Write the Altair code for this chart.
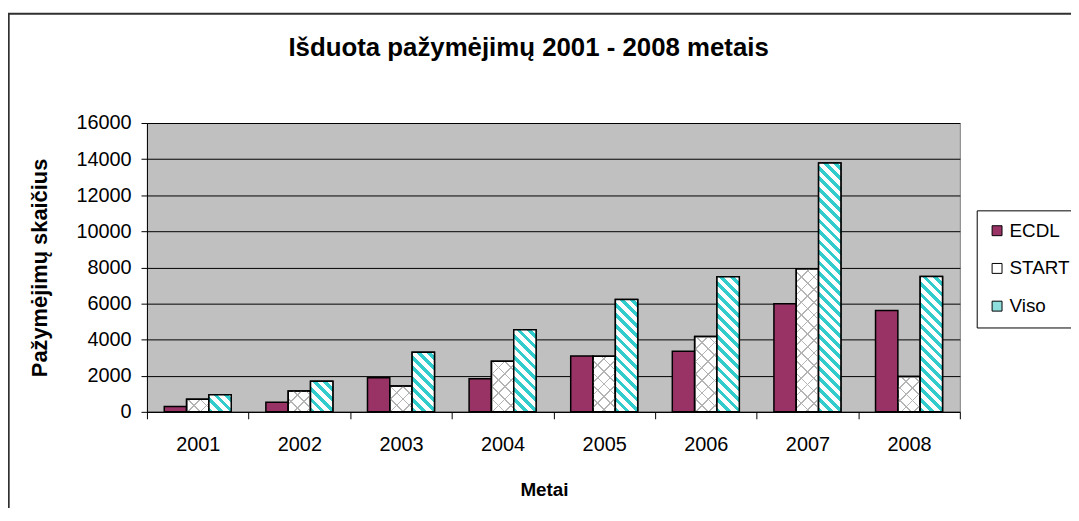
import math
import altair as alt
import pandas as pd

# ---------------- data ----------------
years = ["2001", "2002", "2003", "2004", "2005", "2006", "2007", "2008"]
series = ["ECDL", "START", "Viso"]
ecdl = [290, 530, 1890, 1830, 3100, 3350, 5990, 5620]
start = [700, 1160, 1430, 2800, 3080, 4180, 7930, 1960]
viso = [950, 1700, 3300, 4550, 6220, 7480, 13780, 7500]
y_ticks = [0, 2000, 4000, 6000, 8000, 10000, 12000, 14000, 16000]

title_text = "Išduota pažymėjimų 2001 - 2008 metais"
x_title = "Metai"
y_title = "Pažymėjimų skaičius"

# ---------------- style ----------------
FONT = "Liberation Sans"
PLOT_W, PLOT_H = 819, 291
Y_MAX = 16000
OFFSET_PAD = 0.775
BAR_W = PLOT_W / len(years) / (len(series) + 2 * OFFSET_PAD)
series_colors = ["#993366", "#FFFFFF", "#8FDEDE"]
CYAN = "#33CCCC"
HATCH = "#B4B4B4"
CLEAR = "rgba(255,255,255,0)"

rows = []
for i, yr in enumerate(years):
    for s, vals in zip(series, [ecdl, start, viso]):
        rows.append({"Metai": yr, "Serija": s, "Kiekis": vals[i]})
df = pd.DataFrame(rows)


def stripes(h, w, kind, period, frac, line, bg):
    """Linear gradient that paints 45-degree stripes on a w x h bar."""
    h = max(h, 1.0)
    k = (w + h) / (w * w + h * h)
    if kind == "back":  # lines like "\"
        x1, y1, x2, y2 = 0.0, 1.0, k * w, 1.0 - k * h
    else:  # lines like "/"
        x1, y1, x2, y2 = 0.0, 0.0, k * w, k * h
    n = (w + h) / math.sqrt(2) / period
    stops = []
    i = 0
    while i < n:
        a = i / n
        b = min((i + frac) / n, 1.0)
        c = min((i + 1) / n, 1.0)
        stops += [
            {"offset": round(a, 5), "color": line},
            {"offset": round(b, 5), "color": line},
            {"offset": round(b, 5), "color": bg},
            {"offset": round(c, 5), "color": bg},
        ]
        i += 1
    return {"gradient": "linear", "x1": round(x1, 5), "y1": round(y1, 5),
            "x2": round(x2, 5), "y2": round(y2, 5), "stops": stops}


x_enc = alt.X(
    "Metai:N", sort=years, title=x_title,
    scale=alt.Scale(paddingInner=0, paddingOuter=0),
    axis=alt.Axis(labelAngle=0, tickBand="extent", tickSize=7, labelPadding=16,
                  grid=False, titleX=400, titleY=78, titleBaseline="middle",
                  titleAlign="center", titleFontSize=19),
)
xo_enc = alt.XOffset(
    "Serija:N", sort=series,
    scale=alt.Scale(domain=series, paddingInner=0, paddingOuter=OFFSET_PAD),
)
y_enc = alt.Y(
    "Kiekis:Q", title=y_title,
    scale=alt.Scale(domain=[0, Y_MAX], nice=False, zero=True),
    axis=alt.Axis(values=y_ticks, format="d", tickSize=6, labelPadding=10,
                  grid=True, gridColor="black", gridWidth=1, gridOpacity=1,
                  titleX=-108, titleY=PLOT_H / 2, titleAngle=270,
                  titleBaseline="middle", titleAlign="center", titleFontSize=22),
)

base = alt.Chart(df)

frame = alt.Chart(pd.DataFrame({"k": [0]})).mark_rect(
    fill="white", fillOpacity=0, stroke="#303030", strokeWidth=2
).encode(
    x=alt.value(-139.3), x2=alt.value(PLOT_W + 400),
    y=alt.value(-110), y2=alt.value(PLOT_H + 400),
)

bars = base.mark_bar(stroke="black", strokeWidth=1.5).encode(
    x=x_enc, xOffset=xo_enc, y=y_enc,
    color=alt.Color(
        "Serija:N", sort=series,
        scale=alt.Scale(domain=series, range=series_colors),
        legend=alt.Legend(
            title=None, orient="none", legendX=836, legendY=88,
            symbolType="square", symbolSize=100, symbolStrokeColor="black",
            symbolStrokeWidth=1, symbolOpacity=1,
            labelFont=FONT, labelFontSize=19, labelColor="black", labelOffset=3,
            rowPadding=18, padding=11, strokeColor="black", fillColor="white",
        ),
    ),
)

layers = [frame, bars]

# START: light gray cross hatch
for i, yr in enumerate(years):
    h = start[i] / Y_MAX * PLOT_H
    for kind in ["back", "fwd"]:
        layers.append(
            base.transform_filter(
                (alt.datum.Metai == yr) & (alt.datum.Serija == "START")
            ).mark_bar(
                fill=stripes(h, BAR_W, kind, 9.0, 0.13, HATCH, CLEAR), strokeWidth=0
            ).encode(x=x_enc, xOffset=xo_enc, y=y_enc)
        )
layers.append(
    base.transform_filter(alt.datum.Serija == "START").mark_bar(
        fill="white", fillOpacity=0, stroke="black", strokeWidth=1.5
    ).encode(x=x_enc, xOffset=xo_enc, y=y_enc)
)

# Viso: cyan diagonal stripes
for i, yr in enumerate(years):
    h = viso[i] / Y_MAX * PLOT_H
    layers.append(
        base.transform_filter(
            (alt.datum.Metai == yr) & (alt.datum.Serija == "Viso")
        ).mark_bar(
            fill=stripes(h, BAR_W, "back", 7.5, 0.45, CYAN, "#FFFFFF"),
            stroke="black", strokeWidth=1.5,
        ).encode(x=x_enc, xOffset=xo_enc, y=y_enc)
    )

chart = alt.layer(*layers).properties(
    width=PLOT_W, height=PLOT_H,
    background="white",
    view=alt.ViewBackground(fill="#C0C0C0", stroke="#808080", strokeWidth=1),
    autosize=alt.AutoSizeParams(type="none"),
    padding={"left": 140, "top": 114, "right": 112, "bottom": 95},
    title=alt.TitleParams(
        title_text, font=FONT, fontSize=26, fontWeight="bold", color="black",
        anchor="middle", frame="group", dx=-25, offset=-69,
        baseline="alphabetic",
    ),
).configure_view(
    fill="#C0C0C0", stroke="#808080", strokeWidth=1
).configure_axis(
    labelFont=FONT, labelFontSize=20, labelColor="black",
    titleFont=FONT, titleFontWeight="bold", titleColor="black",
    domainColor="black", domainWidth=1, tickColor="black", tickWidth=1,
)

chart.save("out.html", embed_options={"renderer": "svg", "actions": False})
